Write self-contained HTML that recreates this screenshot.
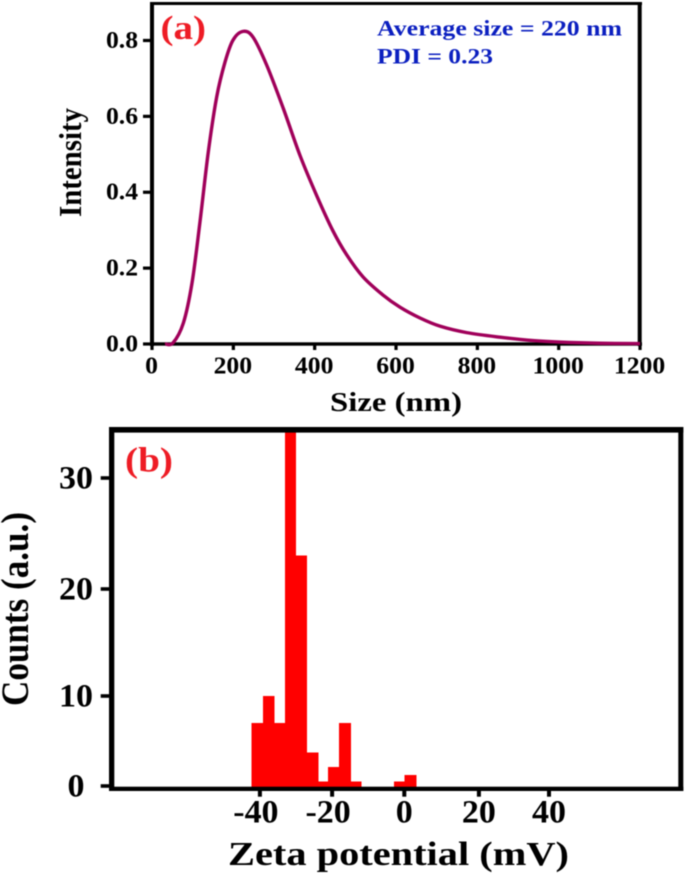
<!DOCTYPE html>
<html lang="en">
<head>
<meta charset="utf-8">
<title>Size distribution and zeta potential</title>
<style>
html,body{margin:0;padding:0;background:#fff;width:685px;height:874px;overflow:hidden}
svg{display:block;filter:blur(0.4px)}
text{font-family:"Liberation Serif",serif;font-weight:bold}
</style>
</head>
<body>
<svg id="chart" xmlns="http://www.w3.org/2000/svg" width="685" height="874" viewBox="0 0 685 874">
  <rect x="0" y="0" width="685" height="874" fill="#fff"/>
  <defs>
    <clipPath id="plot-b-clip"><rect x="110" y="430" width="570" height="358"/></clipPath>
  </defs>

  <g id="panel-a">
    <g id="a-ticks"></g>
    <g fill="#000">
      <rect x="150" y="2" width="492" height="3"/>
      <rect x="150" y="2" width="4" height="344"/>
      <rect x="637.7" y="2" width="4" height="344"/>
      <rect x="150" y="342.3" width="492" height="3.4"/>
    </g>
    <path id="a-curve" fill="none" stroke="#a0005a" stroke-width="3.4" stroke-linejoin="round"/>
    <text x="160.5" y="39" font-size="34" fill="#ee1c25" textLength="45.5" lengthAdjust="spacingAndGlyphs">(a)</text>
    <text x="377" y="35.5" font-size="22" fill="#0b1fc0" textLength="245" lengthAdjust="spacingAndGlyphs">Average size = 220 nm</text>
    <text x="377" y="63.3" font-size="22" fill="#0b1fc0" textLength="116" lengthAdjust="spacingAndGlyphs">PDI = 0.23</text>
    <text x="330" y="411" font-size="27" fill="#000" textLength="132" lengthAdjust="spacingAndGlyphs">Size (nm)</text>
    <text transform="translate(81,217) rotate(-90)" font-size="32" fill="#000" textLength="109" lengthAdjust="spacingAndGlyphs">Intensity</text>
  </g>

  <g id="panel-b">
    <g id="b-bars" clip-path="url(#plot-b-clip)" shape-rendering="crispEdges"></g>
    <g id="b-ticks"></g>
    <g fill="#000">
      <rect x="109" y="427" width="574.3" height="5.6"/>
      <rect x="109" y="427" width="5.3" height="364"/>
      <rect x="678.3" y="427" width="5" height="364"/>
      <rect x="109" y="786.7" width="574.3" height="4.3"/>
    </g>
    <text x="125" y="471.7" font-size="35" fill="#ee1c25" textLength="48" lengthAdjust="spacingAndGlyphs">(b)</text>
    <text x="228" y="865" font-size="34" fill="#000" textLength="341" lengthAdjust="spacingAndGlyphs">Zeta potential (mV)</text>
    <text transform="translate(28,706) rotate(-90)" font-size="39" fill="#000" textLength="194" lengthAdjust="spacingAndGlyphs">Counts (a.u.)</text>
  </g>
</svg>
<script>
// Panel (a): size distribution
const sizeNm = [32, 51.6, 77, 98.4, 118, 138.4, 159, 179.5, 199.2, 223.8, 248.3, 282, 322.8, 363.9, 405, 445, 478.7, 518.8, 568, 609.8, 659, 708, 773.8, 855.7, 936.8, 1003, 1100, 1200];
const intensity = [0, 0.003, 0.055, 0.161, 0.322, 0.506, 0.651, 0.743, 0.801, 0.824, 0.809, 0.735, 0.621, 0.497, 0.391, 0.298, 0.235, 0.177, 0.129, 0.097, 0.0685, 0.047, 0.03, 0.018, 0.009, 0.005, 0.002, 0.001];
const sizeTicks = [0, 200, 400, 600, 800, 1000, 1200];
const sizeTickLabels = ['0', '200', '400', '600', '800', '1000', '1200'];
const intensityTicks = [0, 0.2, 0.4, 0.6, 0.8];
const intensityTickLabels = ['0.0', '0.2', '0.4', '0.6', '0.8'];

// Panel (b): zeta potential histogram
const zetaBinStart = [-42.3, -39.1, -35.9, -33, -30, -26.9, -23.8, -21.1, -18.1, -14.8, -2.85, 0];
const zetaBinEnd = [-39.1, -35.9, -33, -30, -26.9, -23.8, -21.1, -18.1, -14.8, -11.8, 0, 3.3];
const zetaCounts = [7, 10, 7, 36, 23, 3.7, 0.5, 2.1, 7, 0.5, 0.5, 1.2];
const zetaTicks = [-40, -20, 0, 20, 40];
const zetaTickLabels = ['-40', '-20', '0', '20', '40'];
const countTicks = [0, 10, 20, 30];
const countTickLabels = ['0', '10', '20', '30'];

const NS = 'http://www.w3.org/2000/svg';

function xA(v) { return 152 + v * 0.4067; }
function yA(v) { return 344 - v * 379.4; }
function xB(v) {
  if (v <= 0) return 404.3 + 3.61 * v;
  if (v <= 20) return 404.3 + 3.73 * v;
  return 479 + 3.5 * (v - 20);
}
function yB(v) {
  if (v <= 10) return 786 - 9 * v;
  if (v <= 20) return 696 - 10.7 * (v - 10);
  return 589 - 11.1 * (v - 20);
}

function smoothPath(pts) {
  let d = 'M' + pts[0][0].toFixed(2) + ' ' + pts[0][1].toFixed(2);
  for (let i = 0; i < pts.length - 1; i++) {
    const p0 = pts[Math.max(i - 1, 0)];
    const p1 = pts[i];
    const p2 = pts[i + 1];
    const p3 = pts[Math.min(i + 2, pts.length - 1)];
    const c1x = p1[0] + (p2[0] - p0[0]) / 6;
    const c1y = p1[1] + (p2[1] - p0[1]) / 6;
    const c2x = p2[0] - (p3[0] - p1[0]) / 6;
    const c2y = p2[1] - (p3[1] - p1[1]) / 6;
    d += 'C' + c1x.toFixed(2) + ' ' + c1y.toFixed(2) + ' ' + c2x.toFixed(2) + ' ' + c2y.toFixed(2) + ' ' + p2[0].toFixed(2) + ' ' + p2[1].toFixed(2);
  }
  return d;
}

document.getElementById('a-curve').setAttribute('d', smoothPath(sizeNm.map(function (s, i) {
  return [xA(s), yA(intensity[i])];
})));

function makeRect(parent, x, y, w, h, fill) {
  const el = document.createElementNS(NS, 'rect');
  el.setAttribute('x', x);
  el.setAttribute('y', y);
  el.setAttribute('width', w);
  el.setAttribute('height', h);
  el.setAttribute('fill', fill);
  parent.appendChild(el);
  return el;
}

function makeLabel(parent, x, y, size, sx, str) {
  const el = document.createElementNS(NS, 'text');
  el.setAttribute('transform', 'translate(' + x + ',' + y + ') scale(' + sx + ',1)');
  el.setAttribute('text-anchor', 'middle');
  el.setAttribute('font-size', size);
  el.setAttribute('fill', '#000');
  el.textContent = str;
  parent.appendChild(el);
  return el;
}

const aTicks = document.getElementById('a-ticks');
sizeTicks.forEach(function (v, i) {
  const tick = makeRect(aTicks, xA(v) - 1.6, 344, 3.2, 6, '#000');
  
  
  const label = makeLabel(aTicks, xA(v) - 0.5, 373.5, 24, 1.07, sizeTickLabels[i]);
  
  
});
intensityTicks.forEach(function (v, i) {
  const tick = makeRect(aTicks, 143, yA(v) - 1.6, 8, 3.2, '#000');
  
  
  const label = makeLabel(aTicks, 122, yA(v) + 7.5, 24, 1.07, intensityTickLabels[i]);
  
  
});

const bBars = document.getElementById('b-bars');
zetaCounts.forEach(function (c, i) {
  const left = xB(zetaBinStart[i]);
  const right = xB(zetaBinEnd[i]);
  const top = yB(c);
  const bar = makeRect(bBars, left, top, right - left, 788 - top, '#ff0000');
  
  
});

const bTicks = document.getElementById('b-ticks');
zetaTicks.forEach(function (v, i) {
  const tick = makeRect(bTicks, xB(v) - 2, 790, 4, 6.7, '#000');
  
  
  const label = makeLabel(bTicks, xB(v) - (v < 0 ? 4 : 0), 822.3, 33, 1.03, zetaTickLabels[i]);
  
  
});
countTicks.forEach(function (v, i) {
  const tick = makeRect(bTicks, 100.7, yB(v) - 1.8, 9, 3.6, '#000');
  
  
  const label = makeLabel(bTicks, 76, yB(v) + 10.5, 33, 1.03, countTickLabels[i]);
  
  
});
</script>
</body>
</html>
